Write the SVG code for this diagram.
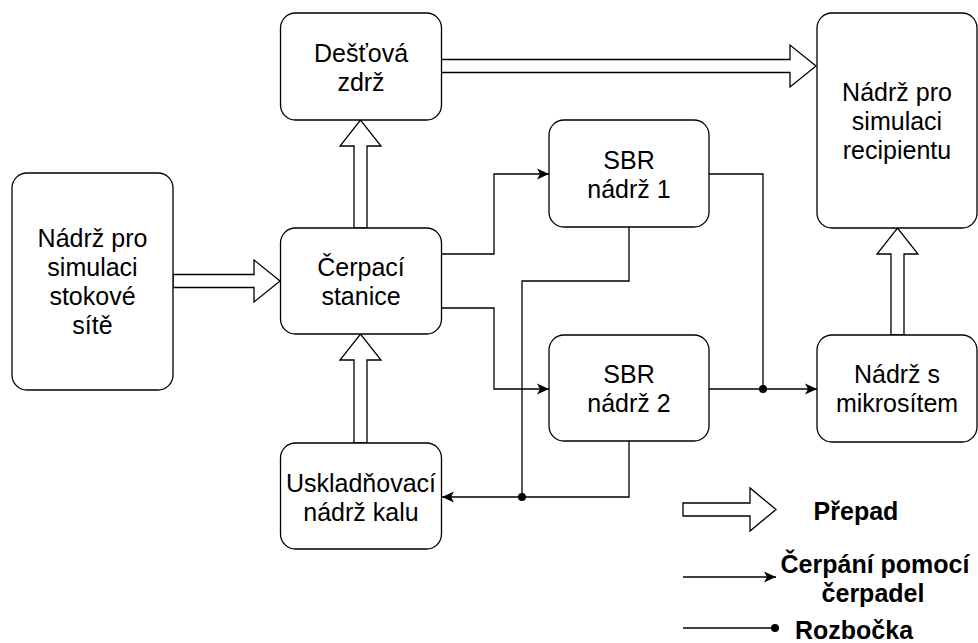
<svg xmlns="http://www.w3.org/2000/svg" width="978" height="643" viewBox="0 0 978 643">
<style>
.box{fill:#fff;stroke:#000;stroke-width:1.3}
.t{font-family:"Liberation Sans",Arial,Helvetica,sans-serif;font-size:25px;text-anchor:middle;fill:#000}
.lg{font-weight:bold;font-size:25px}
.flow{fill:#fff;stroke:#000;stroke-width:1.3;stroke-linejoin:miter}
.conn{fill:none;stroke:#000;stroke-width:1.3}
</style>
<defs>
<marker id="arr" markerWidth="14" markerHeight="12" refX="12" refY="6" orient="auto" markerUnits="userSpaceOnUse"><path d="M0,0.5 L12,6 L0,11.5 L3,6 Z" fill="#000"/></marker>
<marker id="dot" markerWidth="10" markerHeight="10" refX="5" refY="5" markerUnits="userSpaceOnUse"><circle cx="5" cy="5" r="4" fill="#000"/></marker>
</defs>
<rect width="978" height="643" fill="#fff"/>

<g id="connectors">
<path class="flow" d="M173,274.5 L254,274.5 L254,260 L280,281 L254,302 L254,287.5 L173,287.5 Z"/>
<path class="flow" d="M354,228 L354,146 L340,146 L360.5,120 L381,146 L367,146 L367,228 Z"/>
<path class="flow" d="M354,443 L354,360 L340,360 L360.5,334 L381,360 L367,360 L367,443 Z"/>
<path class="flow" d="M441,59.5 L790,59.5 L790,45 L816,66 L790,87 L790,72.5 L441,72.5 Z"/>
<path class="flow" d="M891,335 L891,254 L877,254 L897.5,228 L918,254 L904,254 L904,335 Z"/>
<path class="conn" d="M441,254 L494,254 L494,174 L549,174" marker-end="url(#arr)"/>
<path class="conn" d="M441,308 L494,308 L494,389 L549,389" marker-end="url(#arr)"/>
<path class="conn" d="M709,174 L763,174 L763,389" marker-end="url(#dot)"/>
<path class="conn" d="M709,389 L817,389" marker-end="url(#arr)"/>
<path class="conn" d="M629,227 L629,281 L522,281 L522,497" marker-end="url(#dot)"/>
<path class="conn" d="M629,441 L629,497 L442,497" marker-end="url(#arr)"/>
</g>

<g id="n-destova">
<rect class="box" x="280.5" y="13" width="161" height="107" rx="15"/>
<text class="t" x="361" y="62">Dešťová</text>
<text class="t" x="361" y="91">zdrž</text>
</g>
<g id="n-recipient">
<rect class="box" x="817" y="13" width="160" height="215" rx="15"/>
<text class="t" x="897" y="101">Nádrž pro</text>
<text class="t" x="897" y="130">simulaci</text>
<text class="t" x="897" y="159">recipientu</text>
</g>
<g id="n-sbr1">
<rect class="box" x="549" y="120" width="160" height="107" rx="15"/>
<text class="t" x="629" y="169">SBR</text>
<text class="t" x="629" y="198">nádrž 1</text>
</g>
<g id="n-stokove">
<rect class="box" x="12" y="173" width="161" height="217" rx="15"/>
<text class="t" x="92.5" y="247">Nádrž pro</text>
<text class="t" x="92.5" y="276">simulaci</text>
<text class="t" x="92.5" y="305">stokové</text>
<text class="t" x="92.5" y="334">sítě</text>
</g>
<g id="n-cerpaci">
<rect class="box" x="280.5" y="228" width="161" height="106" rx="15"/>
<text class="t" x="361" y="276">Čerpací</text>
<text class="t" x="361" y="305">stanice</text>
</g>
<g id="n-sbr2">
<rect class="box" x="549" y="335" width="160" height="106" rx="15"/>
<text class="t" x="629" y="383">SBR</text>
<text class="t" x="629" y="412">nádrž 2</text>
</g>
<g id="n-mikro">
<rect class="box" x="817" y="335" width="160" height="107" rx="15"/>
<text class="t" x="897" y="383">Nádrž s</text>
<text class="t" x="897" y="412">mikrosítem</text>
</g>
<g id="n-usklad">
<rect class="box" x="280.5" y="443" width="161" height="106" rx="15"/>
<text class="t" x="361" y="492">Uskladňovací</text>
<text class="t" x="361" y="521">nádrž kalu</text>
</g>

<g id="legend">
<path class="flow" d="M683,503 L750,503 L750,488 L776,509.5 L750,531 L750,516 L683,516 Z"/>
<text class="t lg" x="856" y="520">Přepad</text>
<path class="conn" d="M683,577 L776,577" marker-end="url(#arr)"/>
<text class="t lg" x="875" y="573">Čerpání pomocí</text>
<text class="t lg" x="873" y="602">čerpadel</text>
<path class="conn" d="M683,628 L775,628" marker-end="url(#dot)"/>
<text class="t lg" x="854" y="639">Rozbočka</text>
</g>
</svg>
